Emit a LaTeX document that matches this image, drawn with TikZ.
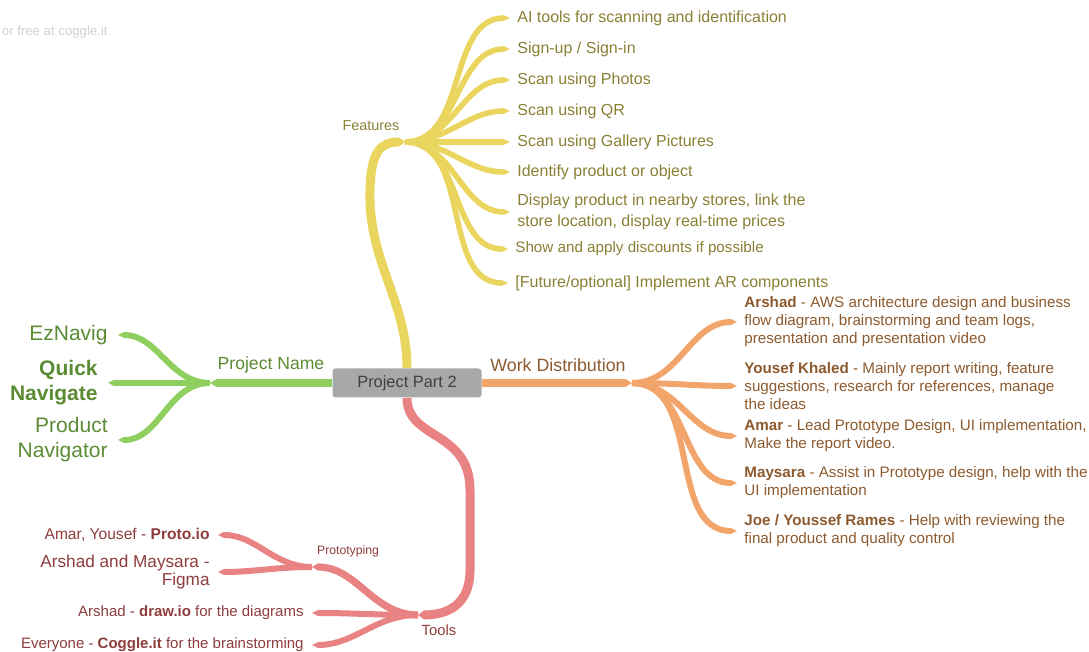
\documentclass[tikz,border=0pt]{standalone}
\usepackage{fontspec}
\setmainfont{Liberation Sans}
\usetikzlibrary{arrows.meta}
\definecolor{ylw}{HTML}{EAD55E}
\definecolor{ylwtxt}{HTML}{8A8034}
\definecolor{grn}{HTML}{8FCF5F}
\definecolor{grntxt}{HTML}{5B8B33}
\definecolor{org}{HTML}{F2A56B}
\definecolor{orgtxt}{HTML}{8C5A2E}
\definecolor{rd}{HTML}{E98383}
\definecolor{rdtxt}{HTML}{8E3C3C}
\definecolor{hubgray}{HTML}{A8A8A8}
\definecolor{hubtxt}{HTML}{404040}

\begin{document}
\begin{tikzpicture}[x=0.5pt,y=-0.5pt, every node/.style={inner sep=0pt},
  endtip/.style={-{Triangle[length=3pt,width=0pt 1,line width=0pt]}},
  ybr/.style={draw=ylw,line width=2.8pt,endtip},
  gbr/.style={draw=grn,line width=3pt,endtip},
  obr/.style={draw=org,line width=3pt,endtip},
  rbr/.style={draw=rd,line width=3pt,endtip},
  hub/.style={fill=hubgray,text=hubtxt,minimum width=74.5pt,minimum height=14.5pt,rounded corners=1.5pt,font=\fontsize{8.2}{10}\selectfont},
  feat/.style={anchor=west,align=left,inner xsep=3.5pt,text=ylwtxt,font=\fontsize{8}{10.5}\selectfont},
  who/.style={anchor=west,align=left,inner xsep=3.5pt,text=orgtxt,font=\fontsize{7.6}{9}\selectfont},
  pname/.style={anchor=east,align=right,inner xsep=5pt,text=grntxt,font=\fontsize{10.5}{12.5}\selectfont},
  tool/.style={anchor=east,align=right,inner xsep=4pt,text=rdtxt,font=\fontsize{7.5}{9}\selectfont}]
  \useasboundingbox (0,0) rectangle (1089,652);
  \node[anchor=east,text=black!18,font=\fontsize{6.6}{8}\selectfont] (credit) at (108,32) {or free at coggle.it};

  \node[hub] (pp) at (407,383) {Project Part 2};
  \coordinate (name) at (210,383);
  \coordinate (feats) at (405,142);
  \coordinate (work) at (632,383);
  \coordinate (tools) at (418,615);
  \coordinate (proto) at (312,567);

  \node[text=grntxt,font=\fontsize{8.8}{10}\selectfont] (namelbl) at (271,365) {Project Name};
  \node[text=ylwtxt,font=\fontsize{7.2}{9}\selectfont] (featlbl) at (371,126) {Features};
  \node[text=orgtxt,font=\fontsize{8.9}{10}\selectfont] (worklbl) at (558,365) {Work Distribution};
  \node[text=rdtxt,font=\fontsize{7.4}{9}\selectfont] (toollbl) at (439,630) {Tools};
  \node[text=rdtxt,font=\fontsize{6.1}{8}\selectfont] (protolbl) at (348,551) {Prototyping};

  \node[pname] (g1) at (118,335) {EzNavig};
  \node[pname,font=\bfseries\fontsize{10.5}{12.5}\selectfont] (g2) at (108,383) {Quick\\Navigate};
  \node[pname] (g3) at (118,440) {Product\\Navigator};

  \node[feat] (f1) at (510,18) {AI tools for scanning and identification};
  \node[feat] (f2) at (510,49) {Sign-up / Sign-in};
  \node[feat] (f3) at (510,80) {Scan using Photos};
  \node[feat] (f4) at (510,111) {Scan using QR};
  \node[feat] (f5) at (510,142) {Scan using Gallery Pictures};
  \node[feat] (f6) at (510,172) {Identify product or object};
  \node[feat] (f7) at (510,212) {Display product in nearby stores, link the\\store location, display real-time prices};
  \node[feat,font=\fontsize{7.6}{9}\selectfont] (f8) at (508,249) {Show and apply discounts if possible};
  \node[feat] (f9) at (508,283) {[Future/optional] Implement AR components};

  \node[who] (w1) at (737,322) {\textbf{Arshad} - AWS architecture design and business\\flow diagram, brainstorming and team logs,\\presentation and presentation video};
  \node[who] (w2) at (737,386) {\textbf{Yousef Khaled} - Mainly report writing, feature\\suggestions, research for references, manage\\the ideas};
  \node[who] (w3) at (737,436) {\textbf{Amar} - Lead Prototype Design, UI implementation,\\Make the report video.};
  \node[who] (w4) at (737,483) {\textbf{Maysara} - Assist in Prototype design, help with the\\UI implementation};
  \node[who] (w5) at (737,531) {\textbf{Joe / Youssef Rames} - Help with reviewing the\\final product and quality control};

  \node[tool,font=\fontsize{7.8}{9}\selectfont] (t1) at (218,535) {Amar, Yousef - \textbf{Proto.io}};
  \node[tool,font=\fontsize{8.6}{9}\selectfont] (t2) at (218,572) {Arshad and Maysara -\\Figma};
  \node[tool] (t3) at (312,613) {Arshad - \textbf{draw.io} for the diagrams};
  \node[tool] (t4) at (312,645) {Everyone - \textbf{Coggle.it} for the brainstorming};

  \draw[gbr,line width=3.6pt] (pp.west) -- (name);
  \foreach \n in {g1,g2,g3} \draw[gbr] (name) to[out=180,in=0] (\n.east);

  \draw[ybr,line width=4.5pt] (pp.north) .. controls (407,300) and (368,262) .. (370,190) .. controls (371,152) and (380,142) .. (feats);
  \foreach \n in {f1,f2,f3,f4,f5,f6,f7,f8,f9} \draw[ybr] (feats) to[out=0,in=180] (\n.west);

  \draw[obr,line width=3.6pt] (pp.east) -- (work);
  \foreach \n in {w1,w2,w3,w4,w5} \draw[obr] (work) to[out=0,in=180] (\n.west);

  \draw[rbr,line width=4.5pt] (pp.south) .. controls (407,440) and (470,430) .. (470,490) -- (470,570) .. controls (470,606) and (446,615) .. (tools);
  \draw[rbr,line width=3.6pt] (tools) to[out=180,in=0] (proto);
  \foreach \n in {t3,t4} \draw[rbr] (tools) to[out=180,in=0] (\n.east);
  \foreach \n in {t1,t2} \draw[rbr] (proto) to[out=180,in=0] (\n.east);
\end{tikzpicture}
\end{document}
